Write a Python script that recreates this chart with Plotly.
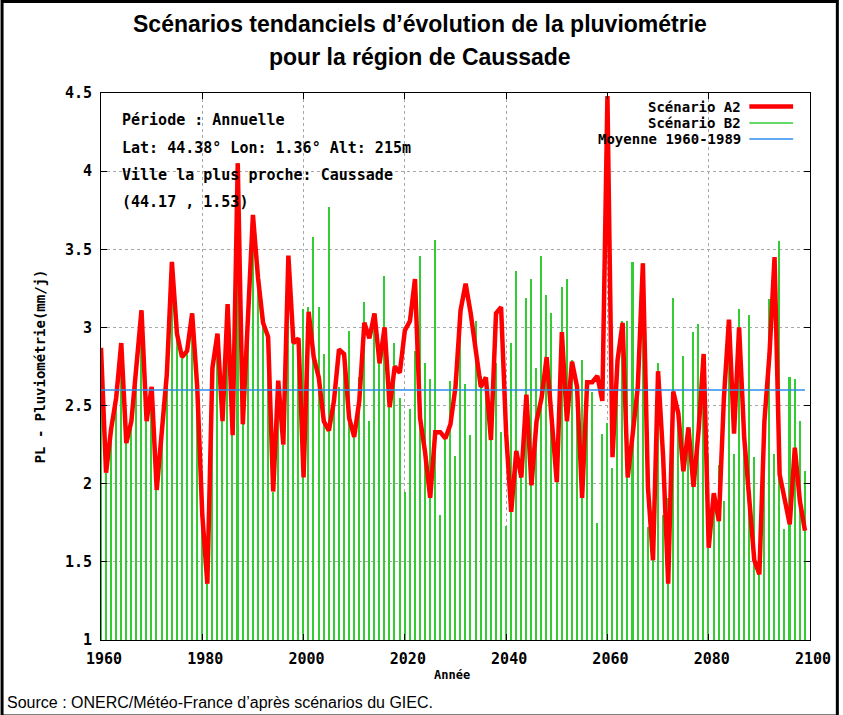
import plotly.graph_objects as go

years = list(range(1960, 2100))

a2 = [2.87, 2.07, 2.35, 2.55, 2.90, 2.26, 2.40, 2.75, 3.11, 2.40,
      2.62, 1.96, 2.35, 2.70, 3.42, 2.96, 2.81, 2.85, 3.09, 2.62,
      1.80, 1.36, 2.74, 2.96, 2.40, 3.15, 2.31, 4.05, 2.38, 3.05,
      3.72, 3.32, 3.03, 2.94, 1.95, 2.66, 2.25, 3.46, 2.90, 2.93,
      2.04, 3.10, 2.81, 2.68, 2.40, 2.34, 2.53, 2.86, 2.83, 2.42,
      2.30, 2.53, 3.03, 2.93, 3.09, 2.77, 3.00, 2.49, 2.75, 2.71,
      2.98, 3.04, 3.31, 2.42, 2.20, 1.91, 2.33, 2.33, 2.29, 2.38,
      2.62, 3.11, 3.28, 3.09, 2.83, 2.62, 2.68, 2.28, 3.09, 3.13,
      2.32, 1.82, 2.21, 2.04, 2.57, 1.99, 2.40, 2.55, 2.81, 2.38,
      2.01, 2.97, 2.40, 2.78, 2.62, 1.91, 2.65, 2.65, 2.69, 2.53,
      4.48, 2.17, 2.79, 3.03, 2.04, 2.32, 2.62, 3.41, 1.98, 1.51,
      2.72, 2.17, 1.36, 2.59, 2.45, 2.08, 2.36, 1.98, 2.34, 2.83,
      1.59, 1.94, 1.76, 2.55, 3.05, 2.32, 3.00, 2.30, 1.93, 1.51,
      1.42, 2.40, 2.83, 3.45, 2.06, 1.89, 1.74, 2.23, 1.89, 1.70]

b2 = [2.87, 2.07, 2.35, 2.55, 2.90, 2.26, 2.40, 2.75, 3.11, 2.40,
      2.62, 1.96, 2.35, 2.70, 3.42, 2.96, 2.81, 2.85, 3.09, 2.62,
      1.80, 1.36, 2.74, 2.96, 2.40, 3.15, 2.31, 4.05, 2.38, 3.05,
      3.72, 3.32, 3.03, 2.94, 1.95, 2.66, 2.25, 3.46, 2.90, 2.93,
      3.12, 3.13, 3.58, 3.13, 2.83, 3.77, 2.53, 2.62, 2.83, 2.98,
      2.30, 2.68, 3.16, 2.40, 3.09, 2.77, 3.33, 2.49, 2.90, 2.55,
      1.95, 2.48, 2.85, 3.46, 2.77, 2.67, 3.56, 1.80, 2.29, 2.66,
      2.18, 3.11, 2.64, 2.31, 3.04, 2.69, 2.66, 2.34, 2.77, 2.33,
      1.73, 2.90, 3.36, 2.04, 3.19, 3.31, 2.74, 3.46, 3.21, 3.09,
      2.01, 3.26, 3.31, 2.79, 2.62, 2.79, 2.65, 2.59, 1.75, 2.32,
      2.39, 2.10, 2.79, 3.04, 3.04, 3.42, 2.72, 3.41, 1.72, 1.51,
      2.77, 1.80, 1.91, 3.19, 2.45, 2.82, 2.36, 2.97, 3.02, 2.83,
      2.18, 1.94, 2.12, 1.89, 2.90, 2.19, 3.12, 2.30, 3.08, 2.17,
      1.42, 2.40, 3.18, 2.19, 3.55, 1.71, 2.68, 2.67, 2.40, 2.08]

mean_years = [1960, 2099]
mean_value = 2.6

x_ticks = [1960, 1980, 2000, 2020, 2040, 2060, 2080, 2100]
y_ticks = [1, 1.5, 2, 2.5, 3, 3.5, 4, 4.5]

info_lines = ["Période : Annuelle",
              "Lat: 44.38° Lon: 1.36° Alt: 215m",
              "Ville la plus proche: Caussade",
              "(44.17 , 1.53)"]
legend_labels = ["Scénario A2", "Scénario B2", "Moyenne 1960-1989"]
legend_colors = ["#ff0000", "#33cc33", "#2b8ef0"]
legend_widths = [4.5, 1.5, 1.5]

title_lines = ["Scénarios tendanciels d’évolution de la pluviométrie",
               "pour la région de Caussade"]
source_text = "Source : ONERC/Météo-France d’après scénarios du GIEC."

MONO = "DejaVu Sans Mono"
SANS = "Liberation Sans, Arial"

# plot-area geometry helpers (pixels -> paper)
L, R, T, B = 101, 814, 93, 640
W, H = R - L, B - T
def px(x):
    return (x - L) / W
def py(y):
    return (B - y) / H

fig = go.Figure()
fig.add_trace(go.Bar(x=years, y=b2, width=0.3, marker_color="#33cc33",
                     marker_line_width=0, name=legend_labels[1], showlegend=False))
fig.add_trace(go.Scatter(x=years, y=a2, mode="lines", name=legend_labels[0],
                         line=dict(color="#ff0000", width=4.5), showlegend=False))
fig.add_trace(go.Scatter(x=mean_years, y=[mean_value] * len(mean_years), mode="lines",
                         name=legend_labels[2], line=dict(color="#2b8ef0", width=1.5),
                         showlegend=False))

annotations = []
for i, t in enumerate(title_lines):
    annotations.append(dict(text="<b>" + t + "</b>", x=px(421.5), y=py([24, 57][i]),
                            xref="paper", yref="paper", showarrow=False,
                            xanchor="center", yanchor="middle",
                            font=dict(family=SANS, size=23, color="black")))
for i, t in enumerate(info_lines):
    annotations.append(dict(text=t, x=px(120), y=py([120, 148, 175, 202][i]),
                            xref="paper", yref="paper", showarrow=False,
                            xanchor="left", yanchor="middle",
                            font=dict(family=MONO, size=15, color="black", weight="bold")))
for i, t in enumerate(legend_labels):
    yy = py([106.5, 123, 139][i])
    annotations.append(dict(text=t, x=px(746), y=yy, xref="paper", yref="paper",
                            showarrow=False, xanchor="right", yanchor="middle",
                            borderpad=0,
                            font=dict(family=MONO, size=14, color="black", weight="bold")))
annotations.append(dict(text="Année", x=px(454), y=py(675), xref="paper", yref="paper",
                        showarrow=False, xanchor="center", yanchor="middle",
                        font=dict(family=MONO, size=12, color="black", weight="bold")))
annotations.append(dict(text="PL - Pluviométrie(mm/j)", x=px(40), y=py(366),
                        xref="paper", yref="paper", showarrow=False, textangle=-90,
                        xanchor="center", yanchor="middle",
                        font=dict(family=MONO, size=14, color="black", weight="bold")))
annotations.append(dict(text=source_text, x=px(4), y=py(703), xref="paper", yref="paper",
                        showarrow=False, xanchor="left", yanchor="middle",
                        font=dict(family=SANS, size=16, color="black")))

shapes = []
for i in range(3):
    yy = py([106.5, 123, 139][i])
    shapes.append(dict(type="line", xref="paper", yref="paper", x0=px(753), x1=px(797),
                       y0=yy, y1=yy, line=dict(color=legend_colors[i], width=legend_widths[i])))
# outer frame
shapes.append(dict(type="rect", xref="paper", yref="paper", x0=px(1.5), x1=px(841.5),
                   y0=py(716), y1=py(1.5), line=dict(color="black", width=3)))

axis_common = dict(showline=True, linecolor="black", linewidth=1, mirror="ticks",
                   ticks="inside", ticklen=6, tickcolor="black",
                   showgrid=True, gridcolor="#a8a8a8", griddash="dot", gridwidth=1,
                   zeroline=False, ticklabelstandoff=5,
                   tickfont=dict(family=MONO, size=15, color="black", weight="bold"))

fig.update_layout(
    width=843, height=715,
    margin=dict(l=L, r=843 - R, t=T, b=715 - B),
    paper_bgcolor="white", plot_bgcolor="white",
    showlegend=False, bargap=0,
    xaxis=dict(range=[1960, 2100], tickvals=x_ticks, ticklabelshift=3, **axis_common),
    yaxis=dict(range=[1, 4.5], tickvals=y_ticks, **axis_common),
    annotations=annotations, shapes=shapes,
)

fig.write_html("out.html", config={"displayModeBar": False},
               post_script="document.body.style.margin='0px';document.body.style.overflow='hidden';")
